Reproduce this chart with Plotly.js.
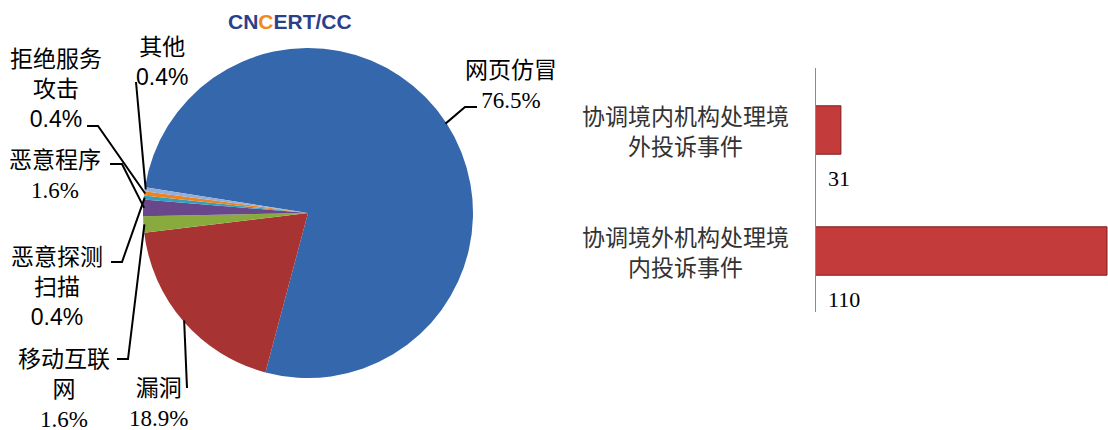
<!DOCTYPE html>
<html><head><meta charset="utf-8">
<script src="https://cdn.plot.ly/plotly-3.0.1.min.js"></script>
<style>html,body{margin:0;padding:0;background:#fff}#chart{width:1108px;height:430px}</style>
</head><body><div id="chart"></div>
<script>
// ---- data ----
const pieLabels = ['网页仿冒','漏洞','移动互联网','恶意程序','恶意探测扫描','拒绝服务攻击','其他'];
const pieLabelLines = ['网页仿冒','漏洞','移动互联<br>网','恶意程序','恶意探测<br>扫描','拒绝服务<br>攻击','其他'];
const pieValues = [76.5,18.9,1.6,1.6,0.4,0.4,0.4];
const pieColors = ['#3467ab','#a83333','#89ab3e','#68488b','#33a0bd','#ec8422','#94aedb'];
const barCategories = ['协调境内机构处理境外投诉事件','协调境外机构处理境内投诉事件'];
const barValues = [31,110];

// ---- layout constants ----
const W = 1108, H = 430;
const pieDomX = [143/W, 473/W], pieDomY = [1-378/H, 1-48/H];
const rotation = 279;
const CJK = '"Noto Sans CJK SC", sans-serif';
const SERIF = '"Liberation Serif", "Times New Roman", serif';
const SANS = '"Liberation Sans", Arial, sans-serif';
// label placement (px) and leader elbows (px), per slice
const labelPos = [
  {x:511, y:82,  pct:SERIF, path:[[477,107],[465,107]]},
  {x:158, y:400, pct:SERIF, path:[[187,388]]},
  {x:64,  y:386, pct:SERIF, path:[[117,359],[128,359]]},
  {x:55,  y:172, pct:SERIF, path:[[110,164],[122,164]]},
  {x:57,  y:284, pct:SANS,  path:[[111,262],[122,262]]},
  {x:56,  y:86,  pct:SANS,  path:[[87,126],[98,126]]},
  {x:162, y:59,  pct:SANS,  path:[[136,82]]}
];

const px = v => v / W, py = v => 1 - v / H;

// pie geometry in px
const cx = (pieDomX[0]+pieDomX[1])/2*W;
const cy = (1-(pieDomY[0]+pieDomY[1])/2)*H;
const r = Math.min((pieDomX[1]-pieDomX[0])*W, (pieDomY[1]-pieDomY[0])*H)/2;
const total = pieValues.reduce((a,b)=>a+b,0);

const annotations = [];
const shapes = [];
let cum = 0;
pieValues.forEach((v,i)=>{
  const mid = (cum + v/2)/total;
  cum += v;
  const ang = (rotation + 360*mid) * Math.PI/180;
  const ax = cx + (r-1)*Math.sin(ang), ay = cy - (r-1)*Math.cos(ang);
  const L = labelPos[i];
  const pts = L.path.concat([[ax,ay]]);
  const d = pts.map((p,k)=>(k?'L':'M')+px(p[0]).toFixed(5)+','+py(p[1]).toFixed(5)).join(' ');
  shapes.push({type:'path', xref:'paper', yref:'paper', path:d, line:{color:'#000', width:2}});
  annotations.push({
    xref:'paper', yref:'paper', x:px(L.x), y:py(L.y), xanchor:'center', yanchor:'middle',
    showarrow:false, align:'center',
    text: pieLabelLines[i] + '<br><span style="font-family:' + L.pct.replace(/"/g,"'") + '">' + v.toFixed(1) + '%</span>',
    font:{family:CJK, size:23, color:'#000'}
  });
});

// bar category labels (centered multi-line)
barCategories.forEach((c,i)=>{
  annotations.push({
    xref:'paper', yref:'y2', x:px(685), y:c, xanchor:'center', yanchor:'middle',
    showarrow:false, align:'center',
    text: c.slice(0,9) + '<br>' + c.slice(9),
    font:{family:CJK, size:23, color:'#333'}
  });
  annotations.push({
    xref:'paper', yref:'y2', x:px(826), y:c, xanchor:'left', yanchor:'middle', yshift:-48,
    showarrow:false, text:String(barValues[i]),
    font:{family:SERIF, size:22, color:'#000'}
  });
});

// logo text
annotations.push({
  xref:'paper', yref:'paper', x:px(290), y:py(22), xanchor:'center', yanchor:'middle', showarrow:false,
  text:'<b>CN<span style="color:#ef8a1e">C</span>ERT/CC</b>',
  font:{family:SANS, size:21, color:'#2c3f8a'}
});

const traces = [
  {
    type:'pie', labels:pieLabels, values:pieValues, sort:false, direction:'clockwise',
    rotation:rotation, domain:{x:pieDomX, y:pieDomY},
    marker:{colors:pieColors, line:{width:0}}, textinfo:'none', hoverinfo:'label+percent',
    showlegend:false
  },
  {
    type:'bar', orientation:'h', x:barValues, y:barCategories, xaxis:'x2', yaxis:'y2',
    width:0.4, marker:{color:'#c43b3b', line:{color:'#7d1e1e', width:1}},
    hoverinfo:'x', showlegend:false
  }
];

const layout = {
  width:W, height:H, margin:{l:0,r:0,t:0,b:0}, paper_bgcolor:'#fff', plot_bgcolor:'rgba(0,0,0,0)',
  showlegend:false,
  xaxis2:{domain:[816/W, 1], range:[23.6,110.3], visible:false, anchor:'y2', fixedrange:true},
  yaxis2:{domain:[1-311.5/H, 1-67.5/H], anchor:'x2', type:'category',
          categoryorder:'array', categoryarray:barCategories, autorange:'reversed',
          showline:true, linecolor:'#8c8c8c', linewidth:1.5, showticklabels:false,
          ticks:'', showgrid:false, zeroline:false},
  annotations:annotations, shapes:shapes
};

Plotly.newPlot('chart', traces, layout, {displayModeBar:false, staticPlot:true});
</script>
</body></html>
